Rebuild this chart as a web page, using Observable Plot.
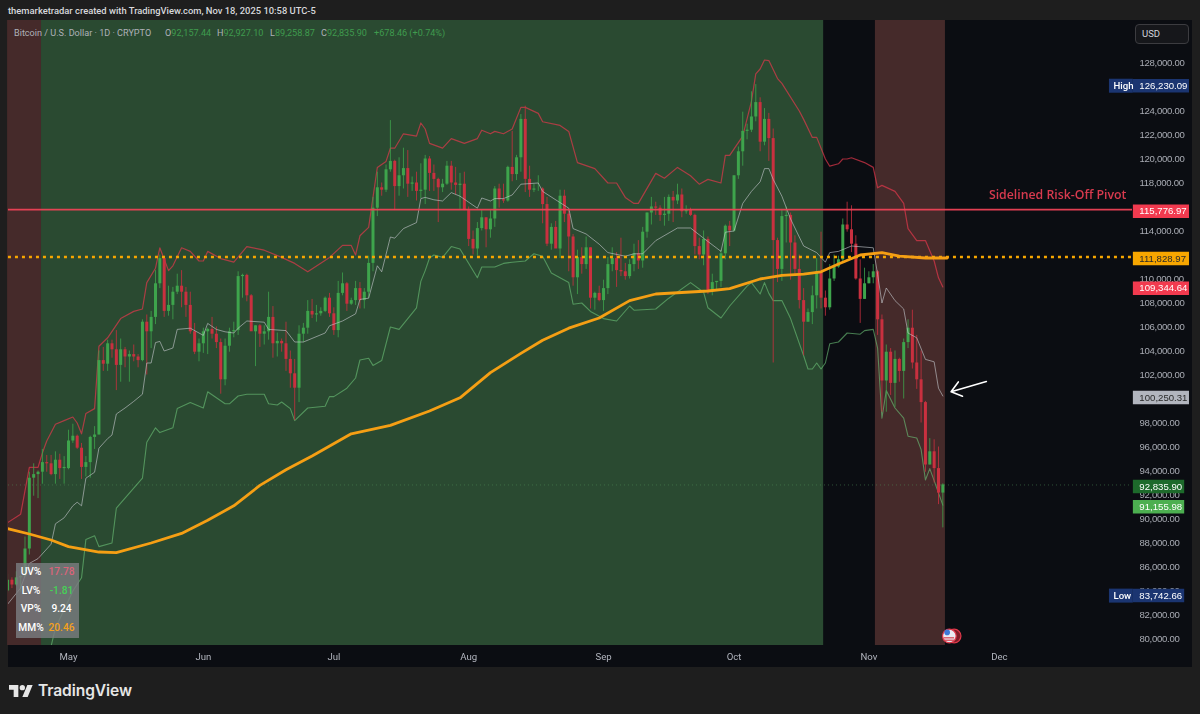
<!DOCTYPE html>
<html><head><meta charset="utf-8">
<script src="https://cdn.jsdelivr.net/npm/d3@7"></script>
<script src="https://cdn.jsdelivr.net/npm/@observablehq/plot@0.6"></script>
<style>
html,body{margin:0;padding:0;background:#1e1e1e;width:1200px;height:714px;overflow:hidden;font-family:"Liberation Sans",sans-serif}
#stage{position:relative;width:1200px;height:714px}
#frame{position:absolute;left:8px;top:20px;width:1184px;height:647px;background:#0b0d12}
#stage svg{position:absolute;left:0;top:0;background:transparent}
#stage > svg:first-of-type{filter:blur(.3px)}
g[aria-label="y-axis tick label"] text,g[aria-label="price tag"] text{letter-spacing:-.3px}
.abs{position:absolute;white-space:nowrap}
#byline{left:8px;top:5px;font:500 9.4px/12px Roboto,sans-serif;color:#d8d9dc}
.ohlc{top:26.5px;font:9.1px/12px Roboto,sans-serif;color:#aeb1b8}
.ohlc b{font-weight:400;color:#3f9b4e}
#usd{left:1135px;top:24px;width:54px;height:20px;box-sizing:border-box;border:1px solid #3c3c40;border-radius:4px;background:#16171b;color:#d1d4dc;font:9.5px/18px Roboto,sans-serif;padding-left:6px}
#stats{left:16px;top:563px;width:63px;height:75px;background:rgba(122,124,128,.82);font:500 10.2px Roboto,sans-serif}
#stats div{position:absolute;width:100%;height:18px;line-height:18px}
#stats span{position:absolute;text-align:center}
#stats .k{left:0;width:30px;color:#fff}
#stats .v{left:30px;width:31px}
#brand{left:38px;top:681px;font:600 15.6px/20px Inter,Roboto,sans-serif;color:#e6e6e6;letter-spacing:-.1px}
</style></head><body>
<div id="stage">
  <div id="frame"></div>
</div>
<script>
// Candles, in thousands of USD, one value per day from 17 Apr to 18 Nov 2025
const openK = [
  84.0,84.9,84.5,85.1,85.2,87.5,93.4,93.7,93.9,94.7,94.6,93.7,94.9,94.2,
  94.2,96.5,96.9,95.9,94.3,94.7,96.8,97.0,103.2,102.9,104.6,104.1,102.8,104.1,103.5,103.7,103.5,103.2,106.4,105.6,106.8,109.6,111.7,107.3,107.8,108.9,109.4,108.9,107.8,105.6,103.9,
  104.6,105.6,105.8,105.4,104.7,101.6,104.4,105.6,105.7,110.2,110.3,108.6,105.6,106.1,105.4,105.6,106.8,104.6,104.8,104.6,103.3,102.1,100.9,105.4,105.9,107.3,107.0,107.1,107.3,108.4,
  107.1,105.7,108.8,109.6,107.9,108.2,109.2,108.2,108.9,111.3,115.9,117.6,117.4,119.1,119.8,117.7,118.6,119.2,117.9,118.0,117.3,117.4,120.0,118.8,118.3,117.6,117.9,119.4,118.0,117.8,117.9,
  115.7,113.3,112.5,114.2,115.1,114.1,115.0,117.5,116.6,116.5,119.3,118.7,120.1,123.3,118.3,117.4,117.5,117.5,116.2,112.9,114.3,112.5,116.9,115.4,113.5,110.1,111.8,111.2,112.6,108.4,108.8,
  108.2,109.2,111.2,111.7,110.7,110.6,110.2,111.2,112.1,111.5,113.9,115.5,116.0,115.9,115.3,115.4,116.8,116.5,117.0,115.6,115.7,115.3,112.7,112.0,113.3,109.0,109.7,109.8,112.1,114.4,
  114.0,118.6,120.6,122.3,122.4,123.5,124.7,121.4,123.3,121.7,113.2,110.8,115.2,115.3,113.0,110.8,108.2,106.4,107.2,108.6,110.6,108.4,107.6,110.0,111.0,111.6,114.5,114.1,112.9,110.0,108.3,
  109.6,110.1,110.6,106.6,101.5,103.9,101.3,103.3,102.3,104.7,105.9,103.0,101.6,99.7,94.5,95.6,94.2,92.16
];
const highK = [
  85.4,85.1,85.6,85.3,88.5,93.9,94.6,94.0,95.8,95.3,95.3,95.6,95.4,95.2,
  97.4,97.9,97.0,96.3,95.2,96.9,97.7,104.0,104.3,104.9,104.9,105.7,105.0,104.3,104.0,104.5,103.7,106.6,107.0,107.3,110.7,112.0,111.9,109.4,109.3,110.4,110.7,109.3,108.9,106.3,105.0,
  105.9,105.9,106.8,106.0,105.0,105.0,105.9,106.4,110.6,110.4,110.4,108.7,106.1,106.2,106.1,108.9,107.7,105.5,105.0,106.4,104.0,103.3,106.1,106.3,108.2,108.3,107.8,107.6,108.5,108.8,
  107.6,109.8,110.5,109.7,108.4,109.8,109.7,109.2,111.9,116.8,118.9,118.0,119.5,123.2,119.9,120.1,120.9,120.7,118.5,118.9,119.6,120.3,120.2,119.5,118.4,118.3,119.8,119.8,119.3,118.8,118.9,
  116.0,114.0,114.7,115.7,115.1,115.7,117.7,117.9,117.9,119.4,122.3,120.3,123.7,124.4,119.4,117.9,118.6,117.6,116.8,114.6,114.8,117.4,117.4,115.7,113.7,112.4,112.6,113.5,112.6,108.9,109.4,
  109.9,111.8,112.6,112.2,113.4,111.3,111.6,112.9,113.2,114.3,115.5,116.8,116.4,116.1,116.8,117.0,117.3,117.9,117.5,116.1,115.9,115.4,113.4,114.0,113.5,110.4,109.8,112.4,114.5,114.8,
  118.6,121.0,123.9,122.9,125.6,126.2,125.1,124.2,123.8,122.5,113.4,115.8,116.0,115.5,113.6,112.0,109.2,107.5,109.4,111.7,113.9,109.0,111.2,112.0,111.9,115.0,116.4,116.1,113.6,111.6,110.9,
  110.6,111.2,110.7,107.0,104.5,104.2,104.0,103.4,105.0,106.6,107.4,105.3,104.0,99.8,96.7,96.6,96.0,92.93
];
const lowK = [
  83.8,84.2,84.4,83.9,85.1,87.0,91.9,91.7,92.9,93.9,93.6,92.9,93.3,92.9,
  94.1,96.3,95.8,93.3,93.5,93.4,95.8,97.0,102.3,102.3,103.4,100.7,101.4,102.6,101.4,103.1,102.6,103.1,102.0,104.2,106.2,109.2,106.8,106.9,106.6,108.7,107.6,106.8,105.4,103.7,103.1,
  103.8,103.7,105.0,104.2,100.4,101.1,103.9,105.1,105.3,108.4,108.1,105.7,102.7,104.3,104.5,104.9,103.4,103.5,103.9,102.3,100.9,98.2,99.7,104.7,105.4,106.7,106.4,106.9,107.2,106.8,
  105.3,105.1,108.6,107.3,107.8,107.8,107.5,107.5,108.4,110.6,115.2,116.9,117.2,118.9,115.7,116.9,117.5,116.8,117.3,116.5,116.7,116.2,117.3,117.3,114.7,117.2,117.8,117.4,117.0,115.8,115.7,
  112.7,112.0,111.9,114.0,112.6,113.4,114.3,115.9,116.3,116.4,118.1,118.2,118.9,117.2,116.8,117.2,117.3,114.6,112.7,112.4,112.6,111.7,114.7,110.6,109.4,108.7,110.4,110.8,107.5,107.4,108.1,
  107.3,108.7,110.6,109.3,110.2,109.9,110.0,110.6,110.8,110.9,113.4,114.5,115.3,114.8,114.4,114.8,114.7,116.2,115.1,115.4,115.2,112.0,111.6,111.1,108.7,108.6,109.1,109.3,111.6,112.7,
  113.9,118.3,119.4,121.6,122.2,123.1,120.6,121.1,119.8,103.0,109.7,109.8,113.0,109.9,110.2,107.5,103.6,106.4,106.2,107.5,107.5,106.9,107.4,109.8,110.9,111.3,113.9,112.2,109.9,106.3,108.3,
  109.6,109.6,105.3,98.9,98.9,100.3,99.3,101.4,100.0,104.2,102.5,100.8,98.0,93.9,94.5,93.0,91.2,89.26
];
const closeK = [
  84.9,84.5,85.1,85.2,87.5,93.4,93.7,93.9,94.7,94.6,93.7,94.9,94.2,94.3,
  96.5,96.9,95.9,94.3,94.7,96.8,97.0,103.2,102.9,104.6,104.1,102.8,104.1,103.5,103.7,103.5,103.2,106.4,105.6,106.8,109.6,111.7,107.3,107.8,108.9,109.4,108.9,107.8,105.6,103.9,104.6,
  105.6,105.8,105.4,104.7,101.6,104.4,105.6,105.7,110.2,110.3,108.6,105.6,106.1,105.4,105.6,106.8,104.6,104.8,104.6,103.3,102.1,100.9,105.4,105.9,107.3,107.0,107.1,107.3,108.4,107.1,
  105.7,108.8,109.6,107.9,108.2,109.2,108.2,108.9,111.3,115.9,117.6,117.4,119.1,119.8,117.7,118.6,119.2,117.9,118.0,117.3,117.4,120.0,118.8,118.3,117.6,117.9,119.4,118.0,117.8,117.9,115.7,
  113.3,112.5,114.2,115.1,114.1,115.0,117.5,116.6,116.5,119.3,118.7,120.1,123.3,118.3,117.4,117.5,117.5,116.2,112.9,114.3,112.5,116.9,115.4,113.5,110.1,111.8,111.2,112.6,108.4,108.8,108.2,
  109.2,111.2,111.7,110.7,110.6,110.2,111.2,112.1,111.5,113.9,115.5,116.0,115.9,115.3,115.4,116.8,116.5,117.0,115.6,115.7,115.3,112.7,112.0,113.3,109.0,109.7,109.8,112.1,114.4,114.0,
  118.6,120.6,122.3,122.4,123.5,124.7,121.4,123.3,121.7,113.2,110.8,115.2,115.3,113.0,110.8,108.2,106.4,107.2,108.6,110.6,108.4,107.6,110.0,111.0,111.6,114.5,114.1,112.9,110.0,108.3,109.6,
  110.1,110.6,106.6,101.5,103.9,101.3,103.3,102.3,104.7,105.9,103.0,101.6,99.7,94.5,95.6,94.2,92.16,92.84
];

// Band and moving-average readings: days since 1 May 2025, value in thousands of USD
const upperDays = [-14,-11,-9,-7,-6,-5,-3,-1,1,2,3,4,6,7,9,12,15,17,18,20,21,23,24,26,28,30,31,32,35,38,41,45,49,52,55,60,63,65,66,67,69,71,73,74,75,77,80,81,82,83,86,88,91,94,95,97,98,100,102,104,105,108,109,113,115,117,121,124,126,128,130,131,135,137,140,143,145,147,150,151,152,155,157,158,159,160,161,163,164,168,169,171,172,174,175,177,178,179,180,183,185,186,187,190,192,193,195,197,199,200,201];
const upperK = [89.7,90.4,94.3,94.3,95.5,96.5,97.9,98.2,98.5,98.0,97.1,98.8,99.2,104.4,105.1,106.7,107.3,107.5,109.7,110.9,112.6,110.7,111.1,112.6,112.3,111.5,111.5,112.3,111.7,111.4,112.7,112.4,111.8,111.3,110.6,111.8,112.8,112.8,112.0,113.6,114.3,119.3,119.8,120.9,120.9,122.1,121.9,123.0,122.5,121.3,120.9,121.7,121.3,121.7,122.4,122.1,122.3,122.1,122.5,124.3,124.3,123.8,123.1,122.8,122.3,119.7,119.2,118.0,118.0,116.8,116.3,116.3,118.8,118.4,119.3,118.6,117.9,118.3,118.0,120.3,120.3,121.9,124.8,127.1,127.5,128.25,128.2,126.7,126.3,124.0,123.3,121.8,121.8,120.0,119.4,119.6,120.0,120.0,120.1,119.7,119.3,117.6,117.8,117.3,116.3,114.2,113.2,113.2,111.5,110.1,109.34];
const basisDays = [-14,-11,-9,-7,-4,-3,-1,1,2,3,4,6,7,9,10,11,13,15,17,18,19,20,21,22,24,25,28,30,31,32,34,36,38,39,41,45,46,50,52,54,59,60,63,66,67,69,71,72,74,75,77,80,81,82,84,86,88,90,94,95,97,98,100,102,104,108,109,115,116,119,122,124,128,130,132,135,140,143,146,150,151,153,155,157,159,160,161,162,164,166,169,172,174,175,177,180,185,186,187,188,190,192,193,195,197,199,200,201];
const basisK = [82.9,84.25,86.3,86.7,87.9,89.6,90.1,91.1,91.4,91.1,93.4,93.9,95.9,96.7,97.0,98.75,99.25,99.8,100.4,103.0,103.0,104.7,104.8,104.0,104.25,105.8,105.9,105.5,105.3,106.3,105.8,105.6,105.5,105.9,106.5,106.4,105.8,105.7,104.75,104.75,105.5,106.1,106.5,107.1,108.3,108.4,111.1,110.6,113.5,113.4,114.2,114.7,116.7,116.8,116.6,116.5,117.2,116.9,115.9,116.75,116.5,116.7,116.7,117.0,117.9,118.0,117.3,115.9,114.2,113.75,112.9,112.2,111.9,112.1,112.1,113.2,114.25,114.25,113.4,112.3,113.9,114.0,116.3,117.3,118.1,119.2,119.2,118.3,116.9,115.0,112.75,112.2,111.4,112.2,112.3,112.75,112.6,110.4,108.0,109.25,108.2,107.5,105.5,105.1,103.3,103.1,100.9,100.25];
const lowerDays = [-4,-3,1,3,4,6,7,10,11,17,18,20,21,24,25,28,31,32,36,37,39,41,45,46,48,49,51,52,55,59,60,61,64,66,67,69,70,72,74,76,78,80,81,82,83,84,86,88,90,94,95,98,100,102,105,107,109,111,115,116,118,120,123,126,129,130,135,138,143,146,147,150,152,156,157,159,160,161,162,164,166,169,170,171,172,173,174,175,177,179,182,183,185,186,187,188,190,192,193,195,196,197,198,199,201];
const lowerK = [79.4,80.9,84.0,85.1,88.3,88.6,87.7,88.0,90.9,93.4,96.4,97.6,97.2,97.6,99.2,99.7,99.25,100.6,99.6,99.6,100.25,100.4,100.4,99.6,99.5,99.75,99.2,98.2,99.25,99.4,100.2,100.2,100.9,101.75,103.25,103.4,102.8,103.2,106.0,105.8,106.7,107.6,109.8,110.7,111.75,112.0,111.8,112.7,112.5,110.1,111.0,111.0,111.3,111.4,111.5,112.1,111.9,110.5,109.7,107.9,108.0,107.3,106.7,106.5,107.75,107.4,107.5,108.4,109.7,108.9,107.6,106.75,107.75,109.4,109.7,108.75,109.7,108.8,108.2,108.2,106.7,103.6,102.5,102.5,103.0,102.5,103.0,104.6,104.75,105.5,105.4,105.7,105.8,104.25,98.4,100.7,99.25,98.4,96.9,96.75,95.8,93.25,94.2,93.2,91.16];
const smaDays = [-14,-9,-4,0,7,11,19,26,32,38,44,50,56,65,74,83,90,97,104,109,115,122,129,135,147,152,159,164,169,173,177,182,187,191,197,202];
const smaK = [89.2,88.75,88.25,87.7,87.25,87.2,88.0,88.8,89.9,91.1,92.8,94.1,95.25,97.1,97.8,99.0,100.1,102.2,103.8,104.9,105.9,106.75,108.2,108.75,109.0,109.2,110.0,110.3,110.4,110.6,111.25,112.0,112.2,111.9,111.75,111.75];

// Background regimes
const zoneFrom = [-14,-6.2,185.5];
const zoneTo = [-6.2,173.6,201.6];
const zoneFill = ["#452a2a","#2a4a31","#452a2a"];

// Axes: the reference's price tags fully cover the 100, 112, 116 and 126 thousand labels
const monthStarts = ["2025-05-01","2025-06-01","2025-07-01","2025-08-01","2025-09-01","2025-10-01","2025-11-01","2025-12-01"];
const priceTicks = [80,82,84,86,88,90,92,94,96,98,102,104,106,108,110,114,118,120,122,124,128];

// Price tags on the right-hand axis
const tagValue = [126.23009,115.77697,111.82897,109.34464,100.25031,92.8359,91.15598,83.74266];
const tagFill = ["#1b3571","#f23a4f","#f7a600","#f23a4f","#b2b5be","#1d6a2b","#4caf50","#1b3571"];
const tagInk = ["#fff","#fff","#2a2a2a","#fff","#2a2a2a","#fff","#fff","#fff"];
const tagEndDay = [257.7,257.7,257.7,257.7,257.7,256.6,256.6,256.6];
const sideLabels = ["High","Low"];
const sideValues = [126.23009,83.74266];

const day = n => new Date(Date.UTC(2025,4,1) + n*864e5);
const fmtP = d3.format(",.2f");
const GREEN = "#3ea44c", RED = "#c9303f";
const candles = closeK.map((c,i)=>({date:day(i-14),open:openK[i],high:highK[i],low:lowK[i],close:c,col:c>=openK[i]?GREEN:RED}));
const series = (ds,vs)=>ds.map((d,i)=>({date:day(d),v:vs[i]}));
const zones = zoneFrom.map((f,i)=>({x1:day(f),x2:day(zoneTo[i]),fill:zoneFill[i]}));
const tags = tagValue.map((v,i)=>({v,fill:tagFill[i],ink:tagInk[i],end:day(tagEndDay[i]),txt:fmtP(v*1000)}));
const sides = sideLabels.map((t,i)=>({t,v:sideValues[i]}));
const tagStart = day(244.8), sideStart = day(239.3);
const lineEnd = day(244.6), lineStart = day(-13.8);

const chart = Plot.plot({
  width:1200,height:714,
  marginLeft:8,marginRight:70,marginTop:20,marginBottom:69,
  style:{background:"transparent",fontFamily:"Roboto,sans-serif"},
  x:{type:"utc",domain:[day(-13.79),day(244.14)]},
  y:{domain:[79.46,131.54]},
  marks:[
    Plot.rect(zones,{x1:"x1",x2:"x2",fill:"fill"}),
    Plot.axisX({ticks:monthStarts.map(d=>new Date(d)),tickFormat:d3.utcFormat("%b"),tickSize:0,tickPadding:8,fontSize:9.6,color:"#b2b5be",label:null}),
    Plot.axisY({anchor:"right",ticks:priceTicks,tickFormat:d=>fmtP(d*1000),tickSize:0,tickPadding:9,fontSize:9.6,color:"#a9acb4",label:null,fontFamily:"Liberation Sans,sans-serif"}),
    Plot.ruleY([92.8359],{x1:lineStart,x2:lineEnd,stroke:"#4f8f58",strokeWidth:0.8,strokeDasharray:"1 3",strokeOpacity:.7}),
    Plot.line(series(lowerDays,lowerK),{x:"date",y:"v",stroke:"#6cc277",strokeOpacity:.62,strokeWidth:1.1,clip:true}),
    Plot.line(series(upperDays,upperK),{x:"date",y:"v",stroke:"#e8384c",strokeOpacity:.68,strokeWidth:1.2,clip:true}),
    Plot.ruleX(candles,{x:"date",y1:"low",y2:"high",stroke:"col",strokeWidth:1,strokeOpacity:.8,clip:true}),
    Plot.ruleX(candles,{x:"date",y1:"open",y2:"close",stroke:"col",strokeWidth:3,clip:true}),
    Plot.line(series(basisDays,basisK),{x:"date",y:"v",stroke:"#c4c7cc",strokeOpacity:.62,strokeWidth:1,clip:true}),
    Plot.ruleY([115.77697],{x1:lineStart,x2:lineEnd,stroke:"#ee4256",strokeWidth:1.7,strokeOpacity:.95}),
    Plot.ruleY([111.82897],{x1:lineStart,x2:lineEnd,stroke:"#f7a600",strokeWidth:2.6,strokeDasharray:"3 4"}),
    Plot.line(series(smaDays,smaK),{x:"date",y:"v",stroke:"#f59f14",strokeWidth:2.8,clip:true}),
    Plot.text(["Sidelined Risk-Off Pivot"],{x:day(243.2),y:[117],textAnchor:"end",fill:"#d83a4e",fontSize:12.3,fontWeight:600,fontFamily:"Open Sans,sans-serif"}),
    Plot.arrow([{}],{x1:day(211),y1:101.46,x2:day(202.9),y2:100.6,stroke:"#fff",strokeWidth:1.6,headLength:13,headAngle:75,bend:0,insetStart:0,insetEnd:0}),
    Plot.dot([1],{x:day(203.6),y:[80.25],r:6.8,fill:"#7c1d28",stroke:"#e0394b",strokeWidth:1.2}),
    Plot.dot([1],{x:day(202.5),y:[80.25],r:6.8,fill:"#e9ebf2",stroke:"#e0394b",strokeWidth:1.2}),
    Plot.ruleY([80.1,79.9],{x1:day(201.3),x2:day(203.7),stroke:"#d8404f",strokeWidth:1.2}),
    Plot.dot([1],{x:day(202),y:[80.55],r:2.8,fill:"#3b79d8"}),
    Plot.ruleY(sides,{y:"v",x1:sideStart,x2:tagStart,stroke:"#1b3571",strokeWidth:14,dy:1.5}),
    Plot.ruleY(tags,{y:"v",x1:tagStart,x2:"end",stroke:"fill",strokeWidth:13.5,dy:1.5}),
    Plot.text(sides,{y:"v",x:sideStart,text:"t",textAnchor:"start",dx:4,dy:1.5,fill:"#fff",fontSize:9.6,fontWeight:500}),
    Plot.text(tags,{y:"v",x:tagStart,text:"txt",textAnchor:"start",dx:6,dy:1.5,fill:"ink",fontSize:9.6,fontWeight:500,fontFamily:"Liberation Sans,sans-serif",ariaLabel:"price tag"})
  ]
});
const stage = document.getElementById("stage");
stage.appendChild(chart);

function put(html){const t=document.createElement("template");t.innerHTML=html.trim();stage.appendChild(t.content.firstChild);}
put('<div class="abs" id="byline">themarketradar created with TradingView.com, Nov 18, 2025 10:58 UTC-5</div>');
put('<div class="abs ohlc" style="left:14px">Bitcoin / U.S. Dollar · 1D · CRYPTO</div>');
put('<div class="abs ohlc" style="left:165px">O<b>92,157.44</b></div>');
put('<div class="abs ohlc" style="left:217px">H<b>92,927.10</b></div>');
put('<div class="abs ohlc" style="left:270px">L<b>89,258.87</b></div>');
put('<div class="abs ohlc" style="left:321px">C<b>92,835.90</b></div>');
put('<div class="abs ohlc" style="left:374px"><b>+678.46 (+0.74%)</b></div>');
put('<div class="abs" id="usd">USD</div>');
put('<div class="abs" id="stats">'+
 '<div style="top:0"><span class="k">UV%</span><span class="v" style="color:#d9647a">17.78</span></div>'+
 '<div style="top:18.7px"><span class="k">LV%</span><span class="v" style="color:#46d156">-1.81</span></div>'+
 '<div style="top:37.4px"><span class="k">VP%</span><span class="v" style="color:#fff">9.24</span></div>'+
 '<div style="top:56px"><span class="k">MM%</span><span class="v" style="color:#f5a11c">20.46</span></div></div>');
put('<svg class="abs" style="left:9px;top:684px" width="24" height="14" viewBox="0 4 36 18"><path fill="#e6e6e6" d="M14 22H7V11H0V4h14v18zM28 22h-8l7.5-18h8L28 22z"/><circle fill="#e6e6e6" cx="20" cy="8" r="4"/></svg>');
put('<div class="abs" id="brand">TradingView</div>');
</script>
</body></html>
